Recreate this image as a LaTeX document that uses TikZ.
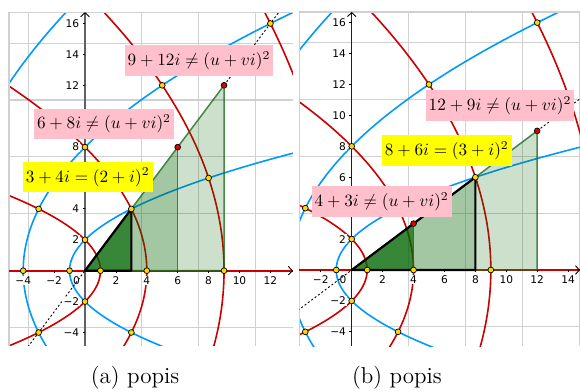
\documentclass[tikz,border=0pt]{standalone}
\usepackage{graphicx}
\usepackage{fontspec}
\newfontfamily\tickfont{DejaVu Sans}
\definecolor{gred}{RGB}{204,0,0}
\definecolor{gblue}{RGB}{0,153,255}
\definecolor{trifill}{RGB}{0,100,0}
\definecolor{triedgec}{RGB}{30,110,30}
\definecolor{ptyellow}{RGB}{255,215,0}
\definecolor{ptred}{RGB}{220,0,0}
\definecolor{lblpink}{RGB}{255,192,203}
\definecolor{lblyellow}{RGB}{255,255,0}
\definecolor{gridc}{RGB}{208,208,208}
\newcommand\lblmath[1]{\scalebox{0.86}{$#1$}}
\tikzset{
  gridline/.style={draw=gridc, line width=0.55pt},
  redcurve/.style={draw=gred, line width=0.8pt},
  bluecurve/.style={draw=gblue, line width=0.8pt},
  triedge/.style={draw=triedgec, line width=0.75pt, draw opacity=0.8},
  blackedge/.style={draw=black, line width=1.1pt, line join=round},
  dotline/.style={draw=black, line width=0.45pt, dash pattern=on 1pt off 1.1pt},
  ypt/.style={circle, fill=ptyellow, draw=black, line width=0.35pt, inner sep=0pt, minimum size=2.9pt},
  rpt/.style={ypt, fill=ptred},
  ticklbl/.style={font=\tickfont\fontsize{5.3}{6}\selectfont, inner sep=0.4pt, fill=white},
  lbl/.style={inner sep=0pt, minimum height=15.3pt},
  pinklbl/.style={lbl, fill=lblpink},
  yellowlbl/.style={lbl, fill=lblyellow},
  captxt/.style={font=\fontsize{11.5}{14}\selectfont, anchor=base, inner sep=0pt}
}
% #1 xmin #2 xmax #3 ymin #4 ymax #5 axis colour
\newcommand\panelbase[5]{%
  \begin{scope}
    \clip (#1,#3) rectangle (#2,#4);
    \draw[gridline] (#1,#3) grid (#2,#4);
    \foreach \a in {1,2,3,4}{%
      \pgfmathsetmacro\tlo{-5.4/(2*\a)}%
      \pgfmathsetmacro\thi{17.4/(2*\a)}%
      \draw[redcurve] plot[domain=\tlo:\thi, samples=160, smooth, variable=\t]
        ({\a*\a-(\t)*(\t)},{2*\a*\t});
    }
    \foreach \b in {1,2,3}{%
      \pgfmathsetmacro\tlo{-5.4/(2*\b)}%
      \pgfmathsetmacro\thi{17.4/(2*\b)}%
      \draw[bluecurve] plot[domain=\tlo:\thi, samples=160, smooth, variable=\t]
        ({(\t)*(\t)-\b*\b},{2*\b*\t});
    }
  \end{scope}
  \draw[gridline] (#1,#3) -- (#1,#4) -- (#2,#4);
  \draw[gred, line width=0.9pt] (#1,0) -- (#2,0);
  \draw[#5, line width=0.75pt] (0,#3) -- (0,#4-0.05);
  \draw[black, line width=0.45pt] (#2-0.3,0.28) -- (#2-0.04,0) -- (#2-0.3,-0.28);
  \draw[black, line width=0.45pt] (-0.28,#4-0.3) -- (0,#4-0.04) -- (0.28,#4-0.3);
}
\begin{document}
\begin{tikzpicture}
\useasboundingbox (0,0) rectangle (290pt,196pt);

% ---------------- left panel ----------------
\begin{scope}[x=7.725pt,y=7.725pt,shift={(42.5pt,60.65pt)}]
  \panelbase{-4.92}{13.46}{-4.87}{16.74}{black!62}
  \fill[trifill, fill opacity=0.2] (0,0) -- (9,0) -- (9,12) -- cycle;
  \fill[trifill, fill opacity=0.2] (0,0) -- (6,0) -- (6,8) -- cycle;
  \fill[trifill, fill opacity=0.66] (0,0) -- (3,0) -- (3,4) -- cycle;
  \begin{scope}
    \clip (-4.92,-4.87) rectangle (13.46,16.74);
    \draw[dotline] (-5,-6.667) -- (0,0);
    \draw[dotline] (9,12) -- (13,17.333);
  \end{scope}
  \draw[triedge] (0,0) -- (9,0) -- (9,12) -- cycle;
  \draw[triedge] (6,0) -- (6,8);
  \draw[blackedge] (0,0) -- (3,0) -- (3,4) -- cycle;
  \foreach \x/\s in {-4/−4,-2/−2,2/2,4/4,6/6,8/8,10/10,12/12}{
    \draw[black, line width=0.4pt] (\x,0) -- ++(0,-1.2pt);
    \node[ticklbl, anchor=base] (lxa\x) at ([yshift=-6.8pt]\x,0) {\s};
  }
  \foreach \y/\s in {-4/−4,-2/−2,2/2,4/4,8/8,12/12,14/14,16/16}{
    \draw[black, line width=0.4pt] (0,\y) -- ++(-1.2pt,0);
    \node[ticklbl, anchor=east] (lya\y) at ([xshift=-2.3pt]0,\y) {\s};
  }
  \node[ticklbl, anchor=base, fill=none] (oa) at ([xshift=-4.3pt,yshift=-6.8pt]0,0) {0};
  \foreach \x/\y [count=\i] in {-4/0,-1/0,1/0,4/0,9/0,0/2,0/-2,-3/4,3/4,-3/-4,3/-4,8/6,0/8,5/12,12/16}{
    \node[ypt] (pa\i) at (\x,\y) {};
  }
  \node[rpt] (ra1) at (6,8) {};
  \node[rpt] (ra2) at (9,12) {};
\end{scope}

% ---------------- right panel ----------------
\begin{scope}[x=7.73pt,y=7.73pt,shift={(175.85pt,61pt)}]
  \panelbase{-3.39}{14.77}{-4.92}{16.69}{black!88}
  \fill[trifill, fill opacity=0.2] (0,0) -- (12,0) -- (12,9) -- cycle;
  \fill[trifill, fill opacity=0.2] (0,0) -- (8,0) -- (8,6) -- cycle;
  \fill[trifill, fill opacity=0.66] (0,0) -- (4,0) -- (4,3) -- cycle;
  \begin{scope}
    \clip (-3.39,-4.92) rectangle (14.77,16.69);
    \draw[dotline] (-5,-3.75) -- (0,0);
    \draw[dotline] (12,9) -- (16,12);
  \end{scope}
  \draw[triedge] (0,0) -- (12,0) -- (12,9) -- cycle;
  \draw[triedge] (4,0) -- (4,3);
  \draw[blackedge] (0,0) -- (8,0) -- (8,6) -- cycle;
  \foreach \x/\s in {-2/−2,2/2,4/4,6/6,8/8,10/10,12/12,14/14}{
    \draw[black, line width=0.4pt] (\x,0) -- ++(0,-1.2pt);
    \node[ticklbl, anchor=base] (lxb\x) at ([yshift=-6.8pt]\x,0) {\s};
  }
  \foreach \y/\s in {-4/−4,-2/−2,2/2,6/6,8/8,10/10,12/12,14/14,16/16}{
    \draw[black, line width=0.4pt] (0,\y) -- ++(-1.2pt,0);
    \node[ticklbl, anchor=east] (lyb\y) at ([xshift=-2.3pt]0,\y) {\s};
  }
  \node[ticklbl, anchor=base, fill=none] (ob) at ([xshift=-4.3pt,yshift=-6.8pt]0,0) {0};
  \foreach \x/\y [count=\i] in {-1/0,1/0,4/0,9/0,0/2,0/-2,-3/4,3/4,-3/-4,3/-4,8/6,0/8,5/12,12/16}{
    \node[ypt] (pb\i) at (\x,\y) {};
  }
  \node[rpt] (rb1) at (4,3) {};
  \node[rpt] (rb2) at (12,9) {};
\end{scope}

% ---------------- labels ----------------
\node[pinklbl, minimum width=74pt] (l912) at (99.5pt,165.8pt) {\lblmath{9+12i\neq(u+vi)^2}};
\node[pinklbl, minimum width=70pt] (l68) at (52pt,134pt) {\lblmath{6+8i\neq(u+vi)^2}};
\node[yellowlbl, minimum width=65pt] (l34) at (43.85pt,107.4pt) {\lblmath{3+4i=(2+i)^2}};
\node[pinklbl, minimum width=74pt] (l129) at (250pt,143.3pt) {\lblmath{12+9i\neq(u+vi)^2}};
\node[yellowlbl, minimum width=64.85pt] (l86) at (223.4pt,120.8pt) {\lblmath{8+6i=(3+i)^2}};
\node[pinklbl, minimum width=70pt] (l43) at (190.85pt,95.3pt) {\lblmath{4+3i\neq(u+vi)^2}};

% ---------------- captions ----------------
\node[captxt] (capa) at (67.5pt,4.5pt) {(a) popis};
\node[captxt] (capb) at (198.5pt,4.5pt) {(b) popis};
\end{tikzpicture}
\end{document}
